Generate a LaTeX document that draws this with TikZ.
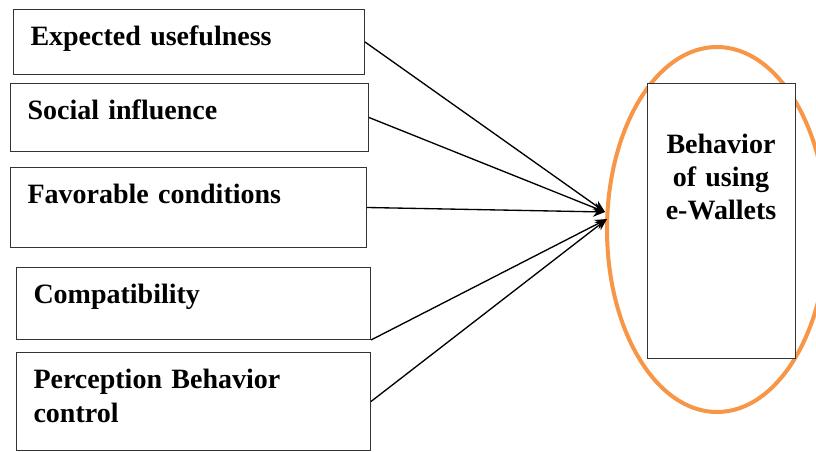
\documentclass[tikz,border=0pt]{standalone}
\usepackage{fontspec}
\setmainfont{Liberation Serif}
\usetikzlibrary{shapes.geometric, arrows.meta}
\definecolor{ovalorange}{RGB}{247,150,70}
\tikzstyle{factor} = [rectangle, anchor=north west, draw=black!80, line width=0.75pt, inner xsep=12.75pt, inner ysep=0pt, text height=27pt, align=left, font=\fontsize{21}{25.5}\selectfont\bfseries]
\tikzstyle{target} = [rectangle, draw=black!80, fill=white, line width=0.75pt, inner sep=0pt, text width=111pt, text height=52.5pt, text depth=153pt, align=center, font=\fontsize{21}{24.5}\selectfont\bfseries]
\tikzstyle{oval} = [ellipse, draw=ovalorange, line width=3pt, minimum width=165pt, minimum height=273.75pt]
\tikzstyle{arrow} = [line width=1pt,->,>={Stealth[length=9pt,width=7.5pt]}]

\begin{document}
\begin{tikzpicture}[x=0.75pt,y=-0.75pt]
        \useasboundingbox (0,0) rectangle (816,452);
        % Nodes
        \node (useful) [factor, text width=237.75pt, text depth=21.75pt] at (13,9) {Expected usefulness};
        \node (social) [factor, text width=243pt, text depth=24pt] at (10,83) {Social influence};
        \node (favor) [factor, text width=241.5pt, text depth=33pt] at (10,167) {Favorable conditions};
        \node (compat) [factor, text width=240pt, text depth=27pt] at (16,267) {Compatibility};
        \node (percep) [factor, text width=240pt, text depth=46.5pt] at (16,352) {Perception Behavior\\control};
        \node (ring) [oval] at (717,229.5) {};
        \node (usage) [target] at (721,221) {Behavior\\of using\\e-Wallets};
        \coordinate (hubtop) at (605,212);
        \coordinate (hubbottom) at (607,219);

        % Arrows
        \draw [arrow] (useful.east) -- (hubtop);
        \draw [arrow] (social.east) -- (hubtop);
        \draw [arrow] (favor.east) -- (hubtop);
        \draw [arrow] (compat.south east) -- (hubbottom);
        \draw [arrow] (percep.east) -- (hubbottom);
    \end{tikzpicture}
\end{document}
